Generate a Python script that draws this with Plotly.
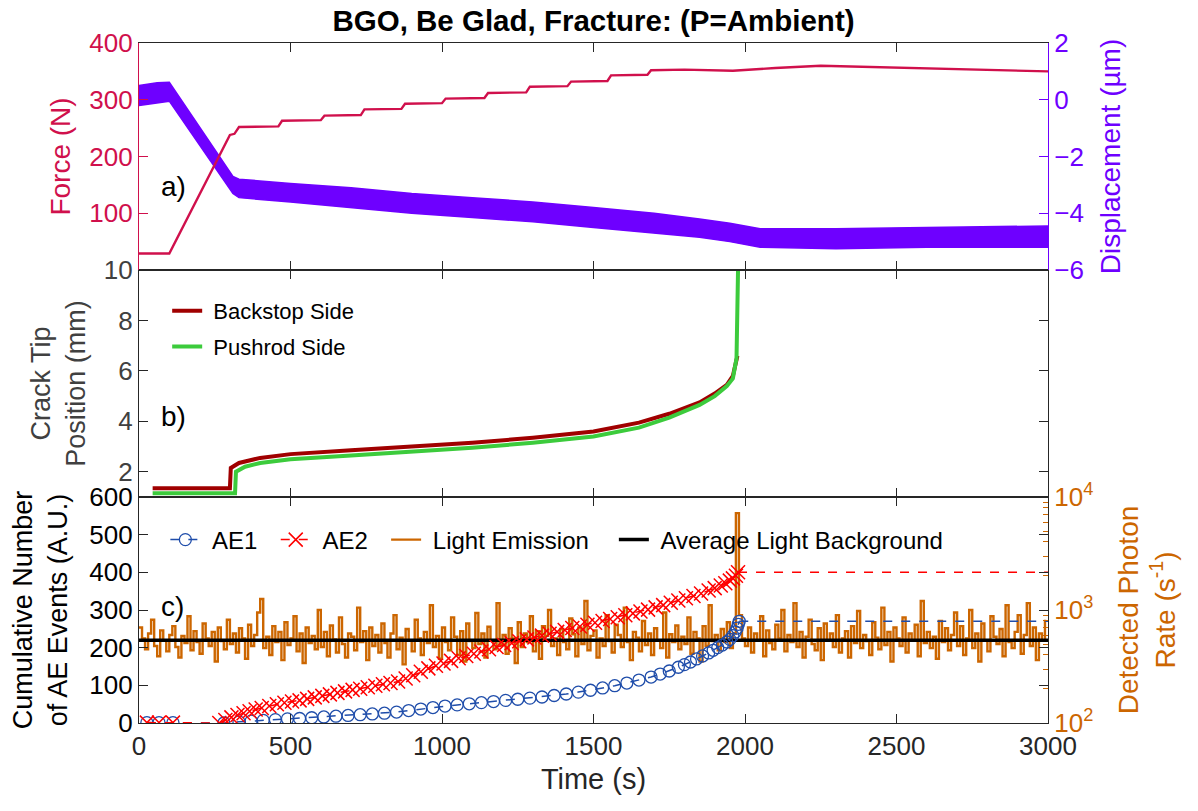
import plotly.graph_objects as go

# ---------------- data ----------------
# Panel a: force (N) vs time (s)
force_t = [0, 100, 300, 315, 330, 460, 472, 600, 612, 732, 744, 866, 878, 1000, 1012, 1140, 1152,
           1278, 1290, 1414, 1426, 1546, 1558, 1678, 1690, 1800, 1960, 2100, 2250, 2400, 2600, 2800, 3000]
force_n = [29, 29, 238, 240, 252, 253, 263, 264, 272, 273, 283, 284, 293, 294, 302, 303, 312,
           313, 323, 324, 332, 333, 343, 344, 352, 353, 351, 356, 360, 358, 355, 352, 350]

# Panel a: displacement band (um), upper and lower envelope of the noisy signal
disp_t = [0, 60, 100, 310, 330, 500, 700, 900, 1100, 1300, 1500, 1700, 1850, 1950, 2050, 2300, 2600, 3000]
disp_hi = [0.5, 0.6, 0.62, -2.7, -2.8, -2.95, -3.1, -3.3, -3.45, -3.6, -3.8, -4.0, -4.2, -4.35, -4.55, -4.55, -4.5, -4.45]
disp_lo = [-0.2, -0.1, -0.05, -3.3, -3.45, -3.6, -3.8, -4.0, -4.15, -4.3, -4.5, -4.7, -4.85, -5.0, -5.2, -5.25, -5.2, -5.2]

# Panel b: crack tip position (mm)
back_t = [45, 300, 303, 330, 400, 500, 700, 900, 1100, 1300, 1500, 1650, 1750, 1850, 1900, 1940, 1960, 1975]
back_mm = [1.35, 1.35, 2.15, 2.35, 2.55, 2.7, 2.85, 3.0, 3.15, 3.35, 3.6, 3.95, 4.3, 4.75, 5.1, 5.45, 5.8, 6.6]
push_t = [45, 317, 320, 350, 400, 500, 700, 900, 1100, 1300, 1500, 1650, 1750, 1850, 1900, 1940, 1960, 1972, 1977]
push_mm = [1.15, 1.15, 2.0, 2.2, 2.35, 2.5, 2.65, 2.8, 2.95, 3.15, 3.4, 3.75, 4.15, 4.65, 5.0, 5.4, 5.7, 6.5, 10.0]

# Panel c: cumulative AE events
ae1_t = [26, 66, 112, 280,
         330, 370, 410, 450, 490, 530, 570, 610, 650, 690,
         730, 770, 810, 850, 890, 930, 970, 1010, 1050, 1090,
         1130, 1170, 1210, 1250, 1290, 1330, 1370, 1410, 1450, 1490,
         1530, 1570, 1610, 1650, 1690,
         1720, 1750, 1780, 1800, 1820, 1840, 1860, 1880, 1895, 1910, 1925, 1940, 1950, 1960, 1968, 1974, 1978, 1981]
ae1_n = [1, 1, 1, 0,
         3, 5, 7, 9, 11, 12, 14, 16, 18, 20,
         22, 24, 26, 29, 33, 37, 41, 45, 48, 51,
         54, 57, 60, 63, 66, 69, 73, 77, 82, 87,
         93, 99, 106, 114, 122,
         130, 138, 148, 155, 162, 170, 178, 186, 193, 200, 207, 215, 222, 232, 242, 252, 262, 270]

ae2_t = [26, 66, 112,
         265, 285, 305, 325, 345, 365, 385, 405,
         430, 455, 480, 505, 530, 555, 580, 605, 630, 655,
         680, 705, 730, 755, 780, 805, 830, 855, 880, 905,
         930, 955, 980, 1005, 1030, 1055, 1080, 1105, 1130, 1155,
         1180, 1205, 1230, 1255, 1280, 1305, 1330, 1355, 1380, 1405,
         1430, 1455, 1480, 1505, 1530, 1555, 1580, 1605, 1630, 1655,
         1680, 1705, 1730, 1755, 1780, 1805, 1830, 1855, 1880,
         1900, 1920, 1935, 1950, 1960, 1970, 1977]
ae2_n = [1, 1, 1,
         0, 8, 15, 21, 26, 31, 36, 40,
         45, 50, 54, 57, 60, 64, 68, 72, 76, 80,
         84, 88, 91, 95, 99, 103, 106, 110, 118, 127,
         136, 145, 152, 158, 165, 172, 178, 184, 190, 196,
         202, 207, 212, 217, 222, 227, 232, 237, 242, 247,
         252, 256, 261, 266, 271, 276, 281, 286, 291, 296,
         301, 307, 313, 319, 325, 331, 337, 344, 352,
         358, 365, 371, 378, 384, 391, 400]

# Panel c: light emission, detected photon rate (1/s) in 10 s bins starting at t=0
light_rate = [700, 560, 450, 620, 820, 480, 390, 660, 540, 430,
              600, 720, 470, 380, 590, 510, 880, 440, 650, 520,
              410, 760, 560, 480, 640, 350, 700, 530, 450, 820,
              500, 620, 420, 690, 560, 370, 740, 480, 600, 950,
              1250, 460, 580, 400, 720, 520, 640, 360, 780, 490,
              560, 880, 430, 620, 340, 700, 510, 590, 450, 1000,
              470, 640, 390, 730, 550, 420, 860, 500, 380, 620,
              580, 440, 1050, 520, 650, 360, 700, 480, 600, 420,
              760, 510, 380, 620, 900, 450, 570, 330, 680, 540,
              430, 820, 560, 400, 640, 510, 1100, 470, 590, 370,
              700, 520, 440, 860, 580, 400, 650, 350, 760, 530,
              460, 940, 500, 620, 380, 710, 540, 450, 1150, 490,
              600, 410, 690, 560, 340, 780, 470, 620, 520, 880,
              430, 650, 370, 720, 590, 1000, 480, 560, 400, 680,
              520, 450, 840, 610, 390, 700, 500, 1200, 440, 590,
              660, 380, 560, 480, 900, 530, 420, 740, 600, 470,
              1050, 520, 360, 640, 570, 430, 800, 490, 620, 400,
              690, 540, 460, 950, 380, 610, 520, 730, 450, 580,
              500, 860, 410, 640, 560, 350, 720, 480, 1100, 530,
              600, 440, 680, 520, 780, 460, 620, 7200, 900, 560,
              480, 700, 420, 620, 540, 880, 390, 660, 510, 450,
              740, 560, 1000, 430, 600, 520, 1150, 470, 640, 380,
              580, 820, 500, 440, 690, 360, 760, 540, 620, 470,
              900, 420, 560, 650, 380, 720, 510, 980, 460, 600,
              530, 400, 780, 570, 450, 1050, 490, 640, 350, 700,
              560, 480, 860, 420, 620, 540, 740, 390, 1200, 510,
              640, 460, 580, 370, 800, 520, 690, 440, 600, 950,
              480, 720, 400, 560, 1000, 460, 620, 350, 760, 540,
              430, 880, 580, 500, 680, 390, 1100, 520, 460, 640,
              900, 410, 600, 1150, 480, 700, 360, 620, 540, 820]
light_bin = 10
light_t = [i * light_bin for i in range(len(light_rate))]
avg_light = 540
t_range = [0, 3000]

# ---------------- styles ----------------
FONT = "Arial, Liberation Sans, sans-serif"
C_FORCE = "#D0104C"
C_DISP = "#6E00FF"
C_BACK = "#A00000"
C_PUSH = "#3CCB3C"
C_AE1 = "#1F4DAA"
C_AE2 = "#FF0000"
C_LIGHT = "#CC6600"
C_AX = "#262626"
NB = "\u00a0"

fig = go.Figure()

# Panel c (bottom): light on base log axis y, AE on overlaying y2
fig.add_trace(go.Scatter(x=light_t, y=light_rate, xaxis="x", yaxis="y", mode="lines",
                         line=dict(color=C_LIGHT, width=2.4, shape="hv"),
                         name=NB + "Light Emission" + NB * 3, legend="legend", legendrank=3))
fig.add_trace(go.Scatter(x=t_range, y=[avg_light, avg_light], xaxis="x", yaxis="y", mode="lines",
                         line=dict(color="black", width=3.5),
                         name=NB + "Average Light Background", legend="legend", legendrank=4))
fig.add_trace(go.Scatter(x=[ae1_t[-1], t_range[1]], y=[ae1_n[-1], ae1_n[-1]], xaxis="x", yaxis="y2",
                         mode="lines", line=dict(color=C_AE1, width=1.5, dash="dash"), showlegend=False))
fig.add_trace(go.Scatter(x=[ae2_t[-1], t_range[1]], y=[ae2_n[-1], ae2_n[-1]], xaxis="x", yaxis="y2",
                         mode="lines", line=dict(color=C_AE2, width=1.5, dash="dash"), showlegend=False))
fig.add_trace(go.Scatter(x=ae1_t, y=ae1_n, xaxis="x", yaxis="y2", mode="lines+markers",
                         line=dict(color=C_AE1, width=1.5, dash="dash"),
                         marker=dict(symbol="circle-open", size=12, color=C_AE1, line=dict(width=1.3)),
                         name=NB + "AE1" + NB * 2, legend="legend", legendrank=1))
fig.add_trace(go.Scatter(x=ae2_t, y=ae2_n, xaxis="x", yaxis="y2", mode="lines+markers",
                         line=dict(color=C_AE2, width=1.5, dash="dash"),
                         marker=dict(symbol="x-thin-open", size=14, color=C_AE2,
                                     line=dict(width=1.5, color=C_AE2)),
                         name=NB + "AE2" + NB * 2, legend="legend", legendrank=2))

# Panel b (middle)
fig.add_trace(go.Scatter(x=back_t, y=back_mm, xaxis="x2", yaxis="y3", mode="lines",
                         line=dict(color=C_BACK, width=4), name=NB + "Backstop Side", legend="legend2",
                         legendgroup="back"))
fig.add_trace(go.Scatter(x=push_t, y=push_mm, xaxis="x2", yaxis="y3", mode="lines",
                         line=dict(color=C_PUSH, width=4), name=NB + "Pushrod Side", legend="legend2",
                         legendgroup="push"))

# Panel a (top): displacement band on base y4 (right), force on overlaying y5 (left)
fig.add_trace(go.Scatter(x=disp_t, y=disp_hi, xaxis="x3", yaxis="y4", mode="lines",
                         line=dict(color=C_DISP, width=1.5), showlegend=False))
fig.add_trace(go.Scatter(x=disp_t, y=disp_lo, xaxis="x3", yaxis="y4", mode="lines",
                         line=dict(color=C_DISP, width=1.5), fill="tonexty", fillcolor=C_DISP,
                         showlegend=False))
fig.add_trace(go.Scatter(x=force_t, y=force_n, xaxis="x3", yaxis="y5", mode="lines",
                         line=dict(color=C_FORCE, width=2.4), showlegend=False))

# ---------------- layout ----------------
# The page body adds an 8 px offset, so the figure is 8 px smaller on each side.
W, HGT = 1190, 803
H_C = 226 / 680
H_B = 227 / 680
dom_c = [0, H_C]
dom_b = [H_C, H_C + H_B]
dom_a = [H_C + H_B, 1]

tickfont = dict(family=FONT, size=26, color=C_AX)
titlefont = dict(family=FONT, size=29, color=C_AX)


def xax(anchor, labels):
    return dict(domain=[0, 1], anchor=anchor, range=t_range, tickvals=[0, 500, 1000, 1500, 2000, 2500, 3000],
                showticklabels=labels, ticks="inside", ticklen=9, tickcolor=C_AX, showline=True,
                linecolor=C_AX, linewidth=1.2, mirror="ticks", showgrid=False, zeroline=False,
                tickfont=tickfont, automargin=False)


minor_log = [200, 300, 400, 500, 600, 700, 800, 900, 2000, 3000, 4000, 5000, 6000, 7000, 8000, 9000]

fig.update_layout(
    width=W, height=HGT,
    margin=dict(l=131, r=150, t=35, b=88, autoexpand=False),
    paper_bgcolor="white", plot_bgcolor="white",
    font=dict(family=FONT, color=C_AX),
    title=dict(text="<b>BGO, Be Glad, Fracture: (P=Ambient)</b>", x=0.5, xref="paper", xanchor="center",
               y=1 - 13 / HGT, yanchor="middle", font=dict(family=FONT, size=29.5, color="black"),
               automargin=False),
    xaxis=dict(**xax("y", True), title=dict(text="Time (s)", font=titlefont, standoff=8)),
    xaxis2=xax("y3", False),
    xaxis3=xax("y4", False),
    # panel c
    yaxis=dict(domain=dom_c, anchor="x", side="right", type="log", range=[2, 4],
               tickvals=[100, 1000, 10000], ticktext=["10<sup>2</sup>", "10<sup>3</sup>", "10<sup>4</sup>"],
               ticks="inside", ticklen=9, tickcolor=C_LIGHT, showline=True, linecolor=C_AX, linewidth=1.2,
               minor=dict(ticks="inside", ticklen=5, tickcolor=C_LIGHT, tickvals=minor_log, showgrid=False),
               tickfont=dict(family=FONT, size=26, color=C_LIGHT), showgrid=False, zeroline=False,
               automargin=False,
               title=dict(text="Detected Photon<br>Rate (s<sup>-1</sup>)",
                          font=dict(family=FONT, size=28, color=C_LIGHT), standoff=26)),
    yaxis2=dict(domain=dom_c, anchor="x", overlaying="y", side="left", range=[0, 600],
                tickvals=[0, 100, 200, 300, 400, 500, 600], ticks="inside", ticklen=9, tickcolor=C_AX,
                showline=True, linecolor=C_AX, linewidth=1.2, mirror="ticks", showgrid=False, zeroline=False,
                tickfont=dict(family=FONT, size=26, color="black"), automargin=False,
                title=dict(text="Cumulative Number<br>of AE Events (A.U.)",
                           font=dict(family=FONT, size=27, color="black"), standoff=16)),
    # panel b
    yaxis3=dict(domain=dom_b, anchor="x2", range=[1, 10], tickvals=[2, 4, 6, 8, 10], ticks="inside",
                ticklen=9, tickcolor=C_AX, showline=True, linecolor=C_AX, linewidth=1.2, mirror="ticks",
                showgrid=False, zeroline=False, tickfont=dict(family=FONT, size=26, color="#404040"),
                automargin=False,
                title=dict(text="Crack Tip<br>Position (mm)",
                           font=dict(family=FONT, size=27, color="#404040"), standoff=10)),
    # panel a
    yaxis4=dict(domain=dom_a, anchor="x3", side="right", range=[-6, 2], tickvals=[-6, -4, -2, 0, 2],
                ticks="inside", ticklen=9, tickcolor=C_DISP, showline=True, linecolor=C_DISP, linewidth=1.2,
                showgrid=False, zeroline=False, tickfont=dict(family=FONT, size=26, color=C_DISP),
                automargin=False,
                title=dict(text="Displacement (µm)", font=dict(family=FONT, size=28, color=C_DISP), standoff=17)),
    yaxis5=dict(domain=dom_a, anchor="x3", overlaying="y4", side="left", range=[0, 400],
                tickvals=[100, 200, 300, 400], ticks="inside", ticklen=9, tickcolor=C_FORCE, showline=True,
                linecolor=C_FORCE, linewidth=1.2, showgrid=False, zeroline=False,
                tickfont=dict(family=FONT, size=26, color=C_FORCE), automargin=False,
                title=dict(text="Force (N)", font=dict(family=FONT, size=28, color=C_FORCE), standoff=10)),
    legend=dict(orientation="h", x=0.029, xanchor="left", y=(723 - 540) / 680, yanchor="middle",
                bgcolor="rgba(0,0,0,0)", font=dict(family=FONT, size=24, color="black"),
                traceorder="normal", itemwidth=30),
    legend2=dict(orientation="v", x=0.031, xanchor="left", y=(723 - 290) / 680, yanchor="top",
                 bgcolor="rgba(0,0,0,0)", font=dict(family=FONT, size=22, color="black"),
                 tracegroupgap=4),
    annotations=[
        dict(text="a)", x=0.022, y=(723 - 186) / 680, xref="paper", yref="paper", xanchor="left",
             yanchor="middle", showarrow=False, font=dict(family=FONT, size=28, color="black")),
        dict(text="b)", x=0.022, y=(723 - 416) / 680, xref="paper", yref="paper", xanchor="left",
             yanchor="middle", showarrow=False, font=dict(family=FONT, size=28, color="black")),
        dict(text="c)", x=0.022, y=(723 - 606) / 680, xref="paper", yref="paper", xanchor="left",
             yanchor="middle", showarrow=False, font=dict(family=FONT, size=28, color="black")),
    ],
)

fig.write_html("out.html")
